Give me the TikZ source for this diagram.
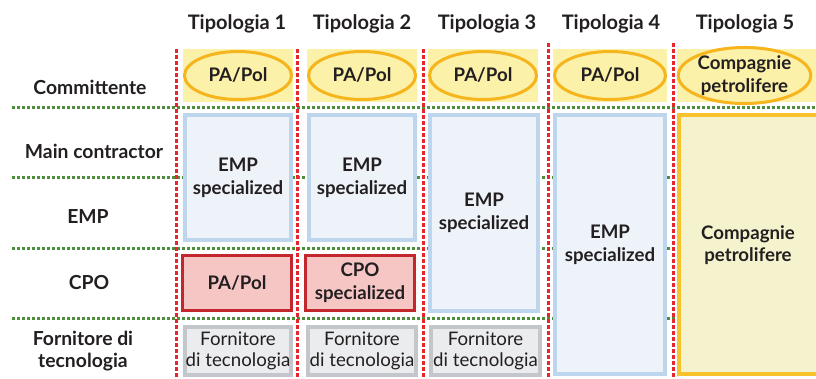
\documentclass[tikz,border=0pt]{standalone}
\usepackage{fontspec}
\setmainfont{Lato}
\usetikzlibrary{shapes.geometric}
\definecolor{tipred}{HTML}{E5262B}
\definecolor{tipgreen}{HTML}{4E8F3E}
\definecolor{tipyellow}{HTML}{F6B51C}
\definecolor{pattyellow}{HTML}{FBF1A9}
\definecolor{empblue}{HTML}{BDD6EE}
\definecolor{empfill}{HTML}{EEF3FA}
\definecolor{forngray}{HTML}{C3C6CB}
\definecolor{fornfill}{HTML}{EBECEE}
\definecolor{cpored}{HTML}{C1272D}
\definecolor{cpofill}{HTML}{F6C6C5}
\definecolor{oilyellow}{HTML}{F8C32A}
\definecolor{oilfill}{HTML}{F5F3CE}
\definecolor{inkgray}{HTML}{231F20}

\begin{document}
\begin{tikzpicture}[x=0.75pt, y=-0.75pt,
  head/.style={font=\fontsize{15}{17}\selectfont\bfseries, text=inkgray},
  rowlbl/.style={font=\fontsize{14.5}{17}\selectfont\bfseries, align=center, text=inkgray},
  lbl/.style={font=\fontsize{14}{17}\selectfont\bfseries, align=center, text=inkgray},
  pat/.style={fill=pattyellow, draw=none, inner sep=0, minimum height=39.75pt},
  ell/.style={ellipse, draw=tipyellow, line width=2.25pt, inner sep=0,
              minimum height=36pt, lbl},
  emp/.style={draw=empblue, fill=empfill, line width=3pt, inner sep=0, lbl},
  cpo/.style={draw=cpored, fill=cpofill, line width=2.25pt, inner sep=0, lbl},
  forn/.style={draw=forngray, fill=fornfill, line width=3pt, inner sep=0,
               lbl, font=\fontsize{14}{16}\selectfont},
  oil/.style={draw=oilyellow, fill=oilfill, line width=3pt, inner sep=0},
  sep/.style={tipred, line width=2.25pt, dash pattern=on 3pt off 1.5pt},
  row/.style={tipgreen, line width=2.25pt, dash pattern=on 2.25pt off 1.5pt}
]
\useasboundingbox (0,0) rectangle (816,378);

\node[head] (t1) at (237,24) {Tipologia 1};
\node[head] (t2) at (362,24) {Tipologia 2};
\node[head] (t3) at (487,24) {Tipologia 3};
\node[head] (t4) at (611,24) {Tipologia 4};
\node[head] (t5) at (745,24) {Tipologia 5};

\node[rowlbl] (committ) at (90,87)   {Committente};
\node[rowlbl] (mainc)   at (94,151)  {Main contractor};
\node[rowlbl] (empr)    at (88,217)  {EMP};
\node[rowlbl] (cpor)    at (89,283)  {CPO};
\node[rowlbl] (fornr)   at (83,351)  {Fornitore di\\tecnologia};

\draw[row] (12,107)--(816,107); \draw[row] (12,177)--(816,177);
\draw[row] (12,248)--(816,248); \draw[row] (12,318)--(816,318);

\node[pat, minimum width=82.5pt]  (p1) at (238,75.5)   {};
\node[pat, minimum width=82.5pt]  (p2) at (362,75.5)   {};
\node[pat, minimum width=82.5pt]  (p3) at (483,75.5)   {};
\node[pat, minimum width=85.5pt]  (p4) at (610,75.5)   {};
\node[pat, minimum width=114.75pt](p5) at (753.5,75.5) {};
\node[ell, minimum width=80.25pt] (c1) at (238,75.5)   {PA/Pol};
\node[ell, minimum width=80.25pt] (c2) at (362,75.5)   {PA/Pol};
\node[ell, minimum width=80.25pt] (c3) at (483,75.5)   {PA/Pol};
\node[ell, minimum width=83.25pt] (c4) at (610,75.5)   {PA/Pol};
\node[ell, minimum width=99pt]    (c5) at (744.5,75.5) {Compagnie\\petrolifere};

\node[emp, minimum width=79.5pt, minimum height=93.75pt] (emp1) at (238,177.5) {EMP\\specialized};
\node[emp, minimum width=79.5pt, minimum height=93.75pt] (emp2) at (362,177.5) {EMP\\specialized};
\node[emp, minimum width=81pt,   minimum height=147pt]   (emp3) at (484,213)   {EMP\\specialized};
\node[emp, minimum width=82.5pt, minimum height=194.25pt](emp4) at (610,244.5) {EMP\\specialized};
\node[oil, minimum width=165.75pt, minimum height=194.25pt] (oil5) at (789.5,244.5) {};
\node[lbl] (oil5t) at (748,245) {Compagnie\\petrolifere};

\node[cpo, minimum width=81.75pt, minimum height=41.25pt] (cpo1) at (237,283) {PA/Pol};
\node[cpo, minimum width=81.75pt, minimum height=41.25pt] (cpo2) at (360,283) {CPO\\specialized};

\node[forn, minimum width=79.5pt,  minimum height=36pt] (tec1) at (238,351)   {Fornitore\\di tecnologia};
\node[forn, minimum width=81pt,    minimum height=36pt] (tec2) at (362,351)   {Fornitore\\di tecnologia};
\node[forn, minimum width=81.75pt, minimum height=36pt] (tec3) at (485.5,351) {Fornitore\\di tecnologia};

\draw[sep] (176,49)--(176,378); \draw[sep] (297,49)--(297,378);
\draw[sep] (423,49)--(423,378); \draw[sep] (548,43)--(548,378);
\draw[sep] (673,43)--(673,378);
\end{tikzpicture}
\end{document}
